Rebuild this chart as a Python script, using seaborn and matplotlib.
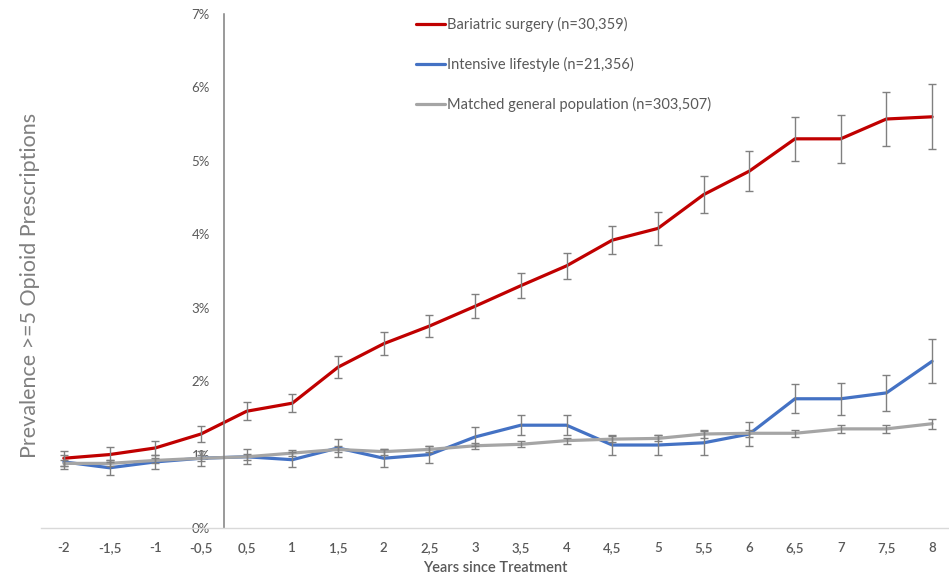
import matplotlib
matplotlib.use("Agg")
import matplotlib.pyplot as plt
import seaborn as sns
import numpy as np
import pandas as pd

# Time points relative to treatment (years)
years = ["-2", "-1,5", "-1", "-0,5", "0,5", "1", "1,5", "2", "2,5", "3",
         "3,5", "4", "4,5", "5", "5,5", "6", "6,5", "7", "7,5", "8"]

# Prevalence (%) of >=5 opioid prescriptions
bariatric = [0.95, 1.00, 1.09, 1.28, 1.59, 1.70, 2.19, 2.51, 2.75, 3.02,
             3.30, 3.57, 3.92, 4.08, 4.54, 4.86, 5.30, 5.30, 5.57, 5.60]
bariatric_err = [0.10, 0.10, 0.10, 0.11, 0.12, 0.12, 0.15, 0.16, 0.15, 0.16,
                 0.17, 0.18, 0.19, 0.22, 0.25, 0.27, 0.30, 0.33, 0.37, 0.44]

lifestyle = [0.90, 0.82, 0.90, 0.95, 0.97, 0.93, 1.09, 0.95, 1.00, 1.24,
             1.40, 1.40, 1.13, 1.13, 1.16, 1.28, 1.76, 1.76, 1.84, 2.27]
lifestyle_err = [0.10, 0.10, 0.10, 0.10, 0.10, 0.10, 0.12, 0.12, 0.12, 0.13,
                 0.14, 0.14, 0.14, 0.14, 0.16, 0.16, 0.20, 0.22, 0.24, 0.30]

general = [0.88, 0.88, 0.92, 0.95, 0.97, 1.02, 1.07, 1.04, 1.07, 1.12,
           1.14, 1.19, 1.21, 1.22, 1.28, 1.29, 1.29, 1.35, 1.35, 1.42]
general_err = [0.04, 0.04, 0.04, 0.04, 0.04, 0.04, 0.04, 0.04, 0.04, 0.04,
               0.04, 0.04, 0.04, 0.04, 0.05, 0.05, 0.05, 0.05, 0.05, 0.07]

series_names = ["Bariatric surgery (n=30,359)",
                "Intensive lifestyle (n=21,356)",
                "Matched general population (n=303,507)"]
series_vals = [bariatric, lifestyle, general]
series_errs = [bariatric_err, lifestyle_err, general_err]
colors = ["#C00000", "#4472C4", "#A5A5A5"]

sns.set_theme(style="white")
plt.rcParams["font.family"] = ["Lato", "DejaVu Sans"]
text_color = "#595959"

rows = []
for name, vals in zip(series_names, series_vals):
    for i, v in enumerate(vals):
        rows.append({"pos": i, "value": v / 100.0, "series": name})
df = pd.DataFrame(rows)

fig = plt.figure(figsize=(9.49, 5.83), dpi=100)
ax = fig.add_axes([41 / 949, 55 / 583, 908 / 949, 514 / 583])

sns.lineplot(data=df, x="pos", y="value", hue="series", hue_order=series_names,
             palette=colors, linewidth=2.3, ax=ax, legend=True, zorder=2)

for vals, errs in zip(series_vals, series_errs):
    pos = np.arange(len(vals))
    ax.errorbar(pos, np.array(vals) / 100.0, yerr=np.array(errs) / 100.0,
                fmt="none", ecolor="#808080", elinewidth=1.0, capsize=3,
                capthick=1.0, zorder=3)

ax.set_xlim(-0.5, 19.37)
ax.set_ylim(0, 0.07)
ax.set_xticks(range(len(years)))
ax.set_xticklabels(years)
ax.set_yticks(np.arange(0, 0.071, 0.01))
ax.set_yticklabels([f"{int(round(t * 100))}%" for t in np.arange(0, 0.071, 0.01)])

ax.tick_params(axis="x", length=0, pad=10, labelsize=9.5, labelcolor=text_color)
ax.tick_params(axis="y", length=0, pad=10, labelsize=9.5, labelcolor=text_color)
for lbl in ax.get_xticklabels() + ax.get_yticklabels():
    lbl.set_fontweight("semibold")

for side in ["top", "right"]:
    ax.spines[side].set_visible(False)
ax.spines["left"].set_position(("data", 3.5))
ax.spines["left"].set_color("#7F7F7F")
ax.spines["left"].set_linewidth(1.1)
ax.spines["bottom"].set_color("#D9D9D9")
ax.spines["bottom"].set_linewidth(1.0)
ax.grid(False)

ax.set_xlabel("Years since Treatment", fontsize=10.5, color=text_color,
              labelpad=5, fontweight="semibold")
ax.set_ylabel("")
fig.text(30 / 949, 1 - 285 / 583, "Prevalence >=5 Opioid Prescriptions",
         rotation=90, ha="center", va="center", fontsize=15.5,
         color="#7F7F7F")

leg = ax.legend(loc="upper left", bbox_to_anchor=(362 / 908, 1 + 10 / 514),
                frameon=False, fontsize=10.5, handlelength=2.0,
                handletextpad=0.1, labelspacing=1.72, labelcolor=text_color)
for line in leg.get_lines():
    line.set_linewidth(2.3)

fig.savefig("out.png", dpi=100)
